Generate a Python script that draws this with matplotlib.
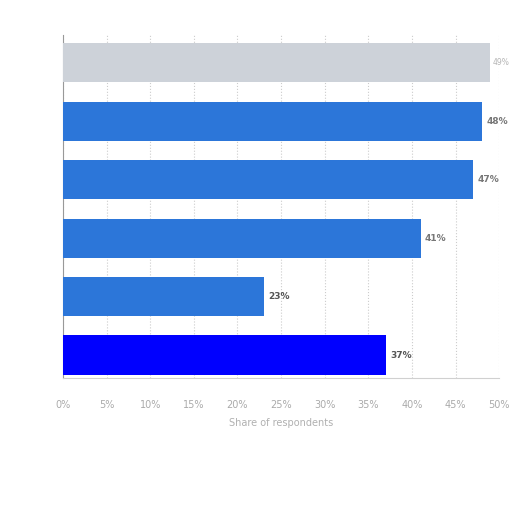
import numpy as np
import matplotlib
matplotlib.use("Agg")
import matplotlib.pyplot as plt

# data, top bar first
categories = ["A", "B", "C", "D", "E", "F"]
values = [49, 48, 47, 41, 23, 37]
bar_colors = ["#cdd2d9", "#2c76d9", "#2c76d9", "#2c76d9", "#2c76d9", "#0000ff"]
label_colors = ["#b5b5b5", "#777777", "#777777", "#777777", "#555555", "#555555"]
x_ticks = [0, 5, 10, 15, 20, 25, 30, 35, 40, 45, 50]
x_label = "Share of respondents"

fig = plt.figure(figsize=(5.12, 5.12), dpi=100)
ax = fig.add_axes([0.123, 0.262, 0.852, 0.670])

pos = np.arange(len(values))[::-1]
ax.barh(pos, values, height=0.67, color=bar_colors, zorder=3)

for i, (p, v, c) in enumerate(zip(pos, values, label_colors)):
    # the top label sits right at the figure edge, keep it small
    if i == 0:
        ax.text(v + 0.3, p, f"{v}%", va="center", ha="left", fontsize=5.5,
                color=c)
    else:
        ax.text(v + 0.5, p, f"{v}%", va="center", ha="left", fontsize=6.5,
                fontweight="bold", color=c)

ax.set_xlim(0, 50)
ax.set_ylim(-0.39, 5.48)
ax.set_xticks(x_ticks)
ax.set_xticklabels([f"{t}%" for t in x_ticks], fontsize=7, color="#aaaaaa")
ax.set_yticks([])
ax.tick_params(axis="x", length=0, pad=16)
ax.set_xlabel(x_label, fontsize=7, color="#b0b0b0", labelpad=6)

ax.grid(axis="x", linestyle=":", color="#cccccc", linewidth=0.8, zorder=0)
for s in ["top", "right"]:
    ax.spines[s].set_visible(False)
ax.spines["left"].set_color("#999999")
ax.spines["bottom"].set_color("#d0d0d0")

fig.savefig("out.png", dpi=100)
